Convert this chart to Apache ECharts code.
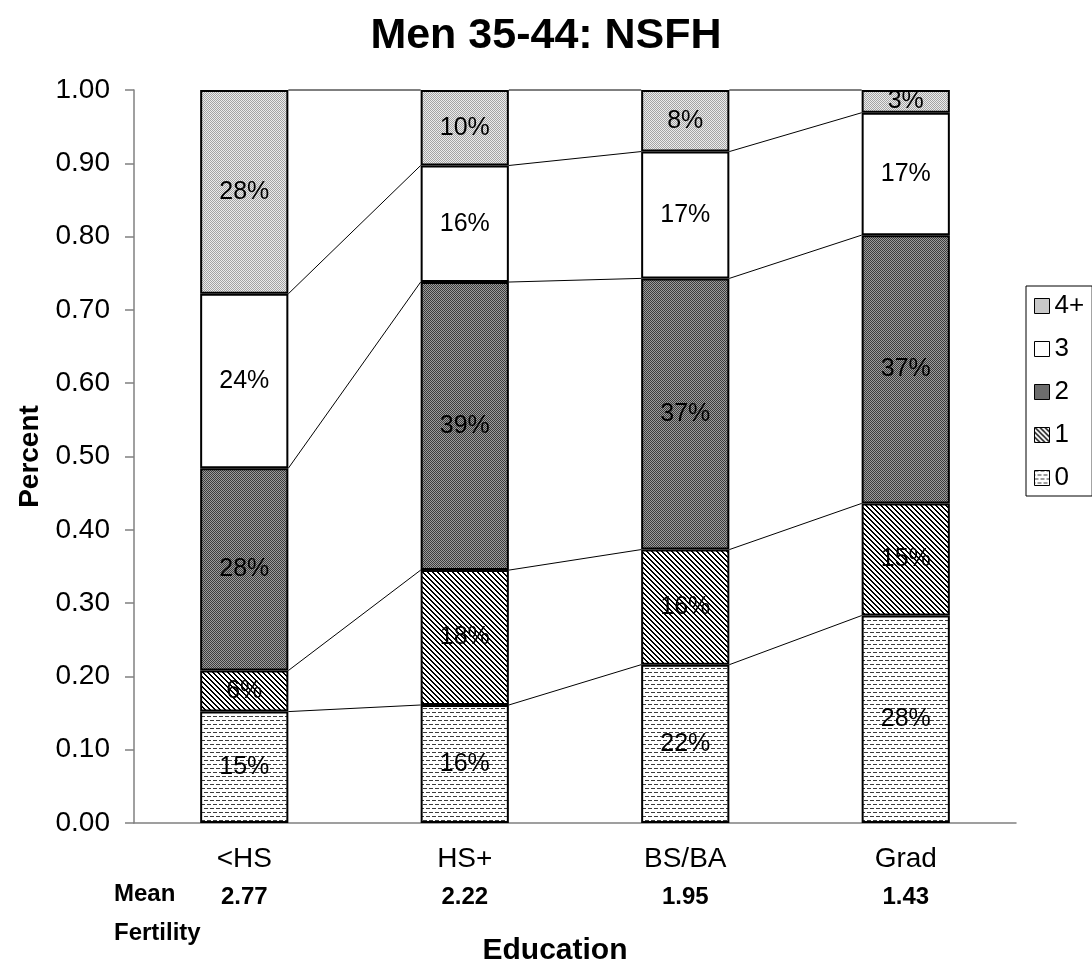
<!DOCTYPE html>
<html>
<head>
<meta charset="utf-8">
<script src="https://cdn.jsdelivr.net/npm/echarts@6/dist/echarts.min.js"></script>
<style>
  html, body { margin: 0; padding: 0; background: #ffffff; }
  #chart { width: 1092px; height: 977px; }
</style>
</head>
<body>
<div id="chart"></div>
<script>
// Education groups and mean number of children per group
const categories = ['<HS', 'HS+', 'BS/BA', 'Grad'];
const meanFertility = [2.77, 2.22, 1.95, 1.43];

// Share of men by number of children (fractions of each group)
const kids0 = [0.152, 0.161, 0.216, 0.283];
const kids1 = [0.056, 0.184, 0.157, 0.153];
const kids2 = [0.276, 0.393, 0.370, 0.366];
const kids3 = [0.238, 0.159, 0.173, 0.167];
const kids4plus = [0.278, 0.103, 0.084, 0.031];

const seriesNames = ['0', '1', '2', '3', '4+'];
const seriesValues = [kids0, kids1, kids2, kids3, kids4plus];
const legendOrder = ['4+', '3', '2', '1', '0'];

const FONT = '"Liberation Sans", Arial, sans-serif';

// Small tiled canvases used as hatch fills
function tile(w, h, paint) {
  const c = document.createElement('canvas');
  c.width = w; c.height = h;
  const ctx = c.getContext('2d');
  ctx.fillStyle = '#ffffff';
  ctx.fillRect(0, 0, w, h);
  paint(ctx, w, h);
  return { image: c, repeat: 'repeat' };
}
function checker(a, b) {
  return tile(4, 4, (ctx, w, h) => {
    for (let y = 0; y < h; y++) for (let x = 0; x < w; x++) {
      ctx.fillStyle = (x + y) % 2 === 0 ? a : b;
      ctx.fillRect(x, y, 1, 1);
    }
  });
}
// offset rows of short horizontal dashes
const fillDashes = tile(6, 8, (ctx) => {
  ctx.fillStyle = '#3c3c3c';
  ctx.fillRect(0, 0, 4, 1);
  ctx.fillRect(3, 4, 3, 1);
  ctx.fillRect(0, 4, 1, 1);
});
// "\" diagonal stripes
const fillDiagonal = tile(5, 5, (ctx, w, h) => {
  ctx.fillStyle = '#000000';
  for (let y = 0; y < h; y++) for (let x = 0; x < w; x++) {
    const d = ((x - y) % 5 + 5) % 5;
    if (d === 0 || d === 1) ctx.fillRect(x, y, 1, 1);
  }
});
const fillDark = checker('#3c3c3c', '#9c9c9c');
const fillWhite = '#ffffff';
const fillLight = checker('#a4a4a4', '#ececec');
const fills = [fillDashes, fillDiagonal, fillDark, fillWhite, fillLight];

// Cumulative tops of each segment, used for the connector lines
const cumulative = [];
seriesValues.reduce((acc, arr) => {
  const next = arr.map((v, i) => acc[i] + v);
  cumulative.push(next);
  return next;
}, categories.map(() => 0));

const connectorData = [];
cumulative.forEach(level => {
  for (let i = 0; i < categories.length - 1; i++) {
    connectorData.push([i, level[i], level[i + 1]]);
  }
});

const barSeries = seriesNames.map((name, k) => ({
  name: name,
  type: 'bar',
  stack: 'total',
  barWidth: '40%',
  data: seriesValues[k],
  itemStyle: { color: fills[k], borderColor: '#000000', borderWidth: 2 },
  label: {
    show: true,
    position: 'inside',
    color: '#000000',
    fontFamily: FONT,
    fontSize: 25,
    formatter: p => Math.round(p.value * 100) + '%'
  },
  emphasis: { disabled: true },
  z: 3
}));

const connectorSeries = {
  type: 'custom',
  name: 'connectors',
  data: connectorData,
  encode: { x: 0, y: [1, 2] },
  silent: true,
  z: 2,
  renderItem: (params, api) => {
    const i = api.value(0);
    const p1 = api.coord([i, api.value(1)]);
    const p2 = api.coord([i + 1, api.value(2)]);
    const half = api.size([1, 0])[0] * 0.2;
    return {
      type: 'line',
      shape: { x1: p1[0] + half, y1: p1[1], x2: p2[0] - half, y2: p2[1] },
      style: { stroke: '#000000', lineWidth: 1 }
    };
  }
};

const chart = echarts.init(document.getElementById('chart'), null, { renderer: 'canvas' });

chart.setOption({
  animation: false,
  backgroundColor: '#ffffff',
  textStyle: { fontFamily: FONT },
  title: {
    text: 'Men 35-44: NSFH',
    left: 'center',
    top: 10,
    textStyle: { fontFamily: FONT, fontSize: 43, fontWeight: 'bold', color: '#000000' }
  },
  legend: {
    data: legendOrder,
    orient: 'vertical',
    left: 1026,
    top: 286,
    icon: 'rect',
    itemWidth: 15,
    itemHeight: 15,
    itemGap: 17,
    padding: [7, 8, 5, 8],
    borderColor: '#000000',
    borderWidth: 1,
    itemStyle: { borderColor: '#000000', borderWidth: 1 },
    textStyle: { fontFamily: FONT, fontSize: 26, color: '#000000', lineHeight: 26 },
    selectedMode: false
  },
  grid: { left: 134, right: 76, top: 90, bottom: 154, containLabel: false },
  xAxis: {
    type: 'category',
    data: categories,
    name: 'Education',
    nameLocation: 'middle',
    nameGap: 113,
    nameTextStyle: {
      fontFamily: FONT, fontSize: 30, fontWeight: 'bold', color: '#000000',
      padding: [0, 40, 0, 0]
    },
    axisLine: { lineStyle: { color: '#808080', width: 1.5 } },
    axisTick: { show: false },
    axisLabel: {
      margin: 18,
      color: '#000000',
      formatter: (v, i) => '{c|' + v + '}\n{m|' + meanFertility[i].toFixed(2) + '}',
      rich: {
        c: { fontFamily: FONT, fontSize: 28, lineHeight: 36, color: '#000000' },
        m: { fontFamily: FONT, fontSize: 24, fontWeight: 'bold', lineHeight: 40, color: '#000000' }
      }
    }
  },
  yAxis: {
    type: 'value',
    min: 0,
    max: 1,
    interval: 0.1,
    name: 'Percent',
    nameLocation: 'middle',
    nameGap: 90,
    nameRotate: 90,
    nameTextStyle: { fontFamily: FONT, fontSize: 28, fontWeight: 'bold', color: '#000000' },
    axisLine: { show: true, lineStyle: { color: '#808080', width: 1.5 } },
    axisTick: { show: true, length: 9, lineStyle: { color: '#808080', width: 1.5 } },
    splitLine: { show: false },
    axisLabel: {
      margin: 24,
      color: '#000000',
      fontFamily: FONT,
      fontSize: 28,
      formatter: v => v.toFixed(2)
    }
  },
  graphic: [
    {
      type: 'text', left: 114, top: 882,
      style: { text: 'Mean', font: 'bold 24px ' + FONT, fill: '#000000' }
    },
    {
      type: 'text', left: 114, top: 921,
      style: { text: 'Fertility', font: 'bold 24px ' + FONT, fill: '#000000' }
    }
  ],
  series: [connectorSeries].concat(barSeries)
});
</script>
</body>
</html>
